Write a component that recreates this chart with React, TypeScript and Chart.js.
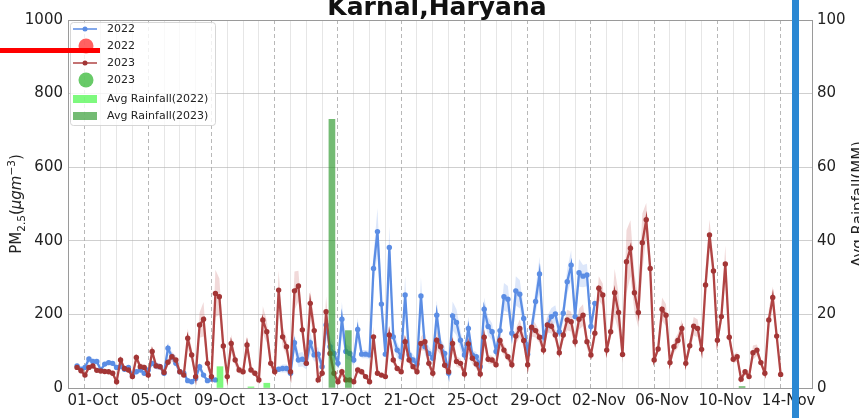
import { useEffect, useRef } from 'react';
import { Chart, registerables } from 'chart.js';

Chart.register(...registerables);

// Time axis: days counted from 01-Oct 00:00; samples every 6 hours starting 30-Sep 00:00
const SERIES_START_DAY = -1;
const SAMPLE_STEP = 0.25;
const SAMPLES_PER_DAY = 4;

// PM2.5 (µg/m³), 6-hourly, 2022 (30-Sep .. 01-Nov)
const pm2022: (number | null)[] = [
  60, 51, 56, 79,
  72, 72, 49, 65,
  69, 67, 56, 58,
  51, 56, 35, 44,
  49, 40, 49, 67,
  60, 58, 40, 108,
  85, 67, 44, 40,
  20, 17, 26, 58,
  35, 20, 24, 22,
  null, null, null, null,
  null, null, null, null,
  null, null, null, null,
  null, null, 49, 51,
  53, 53, 40, 123,
  76, 78, 67, 123,
  90, 92, 58, 171,
  112, 94, 67, 187,
  99, 94, 76, 159,
  92, 92, 90, 325,
  425, 228, 92, 382,
  139, 103, 85, 253,
  90, 76, 65, 250,
  112, 94, 81, 198,
  112, 94, 40, 196,
  178, 130, 90, 162,
  90, 85, 58, 214,
  167, 153, 99, 156,
  248, 241, 149, 264,
  255, 189, 92, 162,
  235, 310, 139, 171,
  194, 201, 153, 203,
  289, 334, 194, 313,
  304, 307, 167, 230,
];

// PM2.5 (µg/m³), 6-hourly, 2023 (30-Sep .. 13-Nov)
const pm2023: number[] = [
  56, 47, 35, 56,
  60, 48, 46, 45,
  44, 40, 17, 76,
  53, 49, 31, 83,
  58, 56, 35, 99,
  60, 58, 42, 70,
  85, 76, 44, 35,
  135, 90, 31, 171,
  187, 67, 31, 257,
  248, 114, 31, 121,
  76, 49, 44, 117,
  49, 40, 22, 185,
  153, 67, 44, 266,
  139, 112, 44, 264,
  277, 158, 67, 230,
  156, 22, 40, 207,
  94, 40, 17, 44,
  22, 22, 17, 49,
  44, 31, 17, 139,
  40, 35, 31, 144,
  76, 53, 44, 126,
  76, 58, 44, 121,
  126, 67, 40, 130,
  112, 62, 44, 121,
  72, 67, 38, 120,
  81, 65, 38, 138,
  78, 76, 63, 129,
  103, 85, 63, 141,
  162, 129, 63, 165,
  156, 138, 103, 171,
  168, 144, 96, 144,
  185, 180, 126, 187,
  198, 126, 90, 149,
  271, 253, 103, 153,
  259, 205, 91, 343,
  380, 259, 205, 395,
  457, 325, 76, 106,
  214, 198, 69, 112,
  129, 162, 67, 115,
  168, 162, 105, 280,
  416, 318, 130, 194,
  337, 138, 78, 85,
  24, 44, 31, 96,
  103, 69, 40, 185,
  246, 141, 37,
];

// Relative half-width of the shaded confidence band, one value per day
const spread2022 = [0.12, 0.1, 0.1, 0.12, 0.12, 0.15, 0.15, 0.2, 0.2, 0, 0, 0, 0.15, 0.2, 0.25, 0.2, 0.25, 0.2, 0.12, 0.15, 0.2, 0.2, 0.2, 0.2, 0.2, 0.15, 0.15, 0.15, 0.15, 0.15, 0.12, 0.12, 0.1];
const spread2023 = [0.12, 0.12, 0.15, 0.12, 0.15, 0.15, 0.15, 0.2, 0.25, 0.2, 0.2, 0.2, 0.2, 0.2, 0.15, 0.2, 0.3, 0.2, 0.2, 0.15, 0.15, 0.15, 0.2, 0.2, 0.2, 0.2, 0.15, 0.15, 0.15, 0.12, 0.12, 0.15, 0.15, 0.12, 0.25, 0.2, 0.1, 0.15, 0.15, 0.15, 0.1, 0.15, 0.2, 0.15, 0.12];

// Average rainfall (mm)
const rainDays2022 = [8.04, 10.0, 11.0];
const rainMM2022 = [5.8, 0.3, 1.3];
const rainDays2023 = [15.12, 16.16, 41.06];
const rainMM2023 = [73, 15.6, 0.4];

// X tick labels
const tickDays = [0, 4, 8, 12, 16, 20, 24, 28, 32, 36, 40, 44];
const tickLabels = ['01-Oct', '05-Oct', '09-Oct', '13-Oct', '17-Oct', '21-Oct', '25-Oct', '29-Oct', '02-Nov', '06-Nov', '10-Nov', '14-Nov'];
const dayGrid = Array.from({ length: 45 }, (_, i) => i);

const X_MIN = -1.05;
const X_MAX = 44.96;

const FONT = '"DejaVu Sans", sans-serif';
const BLUE = '#5b8de4';
const BLUE_BAND = 'rgba(100,145,230,0.22)';
const RED = '#b04444';
const RED_MARK = '#a33636';
const RED_BAND = 'rgba(190,80,80,0.22)';
const RAIN22 = 'rgba(40,245,40,0.6)';
const RAIN23 = 'rgba(40,150,40,0.65)';

const toPoints = (vals: (number | null)[]) =>
  vals.map((v, i) => ({ x: SERIES_START_DAY + i * SAMPLE_STEP, y: v }));
const toBand = (vals: (number | null)[], spreads: number[], sign: number) =>
  vals.map((v, i) => ({
    x: SERIES_START_DAY + i * SAMPLE_STEP,
    y: v == null ? null : v * (1 + sign * spreads[Math.floor(i / SAMPLES_PER_DAY)]),
  }));

const overlayPlugin = {
  id: 'overlay',
  afterDraw(chart: any) {
    const ctx = chart.ctx as CanvasRenderingContext2D;
    const a = chart.chartArea;
    const midY = (a.top + a.bottom) / 2;
    ctx.save();

    // top spine
    ctx.strokeStyle = '#9a9a9a';
    ctx.lineWidth = 1;
    ctx.beginPath();
    ctx.moveTo(a.left, a.top + 0.5);
    ctx.lineTo(a.right, a.top + 0.5);
    ctx.stroke();

    // title
    ctx.fillStyle = '#111';
    ctx.font = `bold 25px ${FONT}`;
    ctx.textAlign = 'center';
    ctx.textBaseline = 'alphabetic';
    ctx.fillText('Karnal,Haryana', (a.left + a.right) / 2 - 3, 15);

    // left axis title with sub/superscripts
    const segs = [
      { t: 'PM', f: `15px ${FONT}`, dy: 0 },
      { t: '2.5', f: `10.5px ${FONT}`, dy: 3.5 },
      { t: '(', f: `15px ${FONT}`, dy: 0 },
      { t: 'μgm', f: `italic 15px ${FONT}`, dy: 0 },
      { t: '−3', f: `10.5px ${FONT}`, dy: -6.5 },
      { t: ')', f: `15px ${FONT}`, dy: 0 },
    ];
    let total = 0;
    for (const s of segs) { ctx.font = s.f; total += ctx.measureText(s.t).width; }
    ctx.save();
    ctx.translate(21, midY);
    ctx.rotate(-Math.PI / 2);
    ctx.textAlign = 'left';
    ctx.fillStyle = '#222';
    let px = -total / 2;
    for (const s of segs) {
      ctx.font = s.f;
      ctx.fillText(s.t, px, s.dy);
      px += ctx.measureText(s.t).width;
    }
    ctx.restore();

    // right axis title
    ctx.save();
    ctx.translate(863, midY);
    ctx.rotate(-Math.PI / 2);
    ctx.textAlign = 'center';
    ctx.fillStyle = '#222';
    ctx.font = `15px ${FONT}`;
    ctx.fillText('Avg Rainfall(MM)', 0, 0);
    ctx.restore();

    // legend
    const lx = a.left + 2;
    const ly = a.top + 2;
    ctx.fillStyle = 'rgba(255,255,255,0.8)';
    ctx.strokeStyle = 'rgba(210,210,210,0.9)';
    ctx.lineWidth = 1;
    ctx.beginPath();
    (ctx as any).roundRect(lx + 0.5, ly + 0.5, 145, 103, 3);
    ctx.fill();
    ctx.stroke();
    const symX = lx + 3;
    const symW = 24;
    const textX = lx + 37;
    const rowY = [ly + 7, ly + 24, ly + 41, ly + 58, ly + 77, ly + 94];
    ctx.font = `11px ${FONT}`;
    ctx.textBaseline = 'middle';
    ctx.textAlign = 'left';
    const lineSym = (y: number, color: string, mark: string) => {
      ctx.strokeStyle = color;
      ctx.lineWidth = 1.5;
      ctx.beginPath();
      ctx.moveTo(symX, y);
      ctx.lineTo(symX + symW, y);
      ctx.stroke();
      ctx.fillStyle = mark;
      ctx.beginPath();
      ctx.arc(symX + symW / 2, y, 2.5, 0, Math.PI * 2);
      ctx.fill();
    };
    const circSym = (y: number, color: string) => {
      ctx.fillStyle = color;
      ctx.beginPath();
      ctx.arc(symX + symW / 2 + 1, y, 7.5, 0, Math.PI * 2);
      ctx.fill();
    };
    const patchSym = (y: number, color: string) => {
      ctx.fillStyle = color;
      ctx.fillRect(symX, y - 4, symW, 8);
    };
    lineSym(rowY[0], BLUE, BLUE);
    circSym(rowY[1], 'rgba(255,30,30,0.7)');
    lineSym(rowY[2], RED, RED_MARK);
    circSym(rowY[3], 'rgba(40,180,40,0.7)');
    patchSym(rowY[4], RAIN22);
    patchSym(rowY[5], RAIN23);
    ctx.fillStyle = '#222';
    const names = ['2022', '2022', '2023', '2023', 'Avg Rainfall(2022)', 'Avg Rainfall(2023)'];
    names.forEach((n, i) => ctx.fillText(n, textX, rowY[i] + 0.5));

    // annotation marks over the picture
    ctx.fillStyle = '#ff0000';
    ctx.fillRect(0, 48, 100, 5);
    ctx.fillStyle = '#2b88d3';
    ctx.fillRect(792, 0, 7, chart.height);

    ctx.restore();
  },
};

export default function App() {
  const canvasRef = useRef<HTMLCanvasElement | null>(null);

  useEffect(() => {
    const canvas = canvasRef.current;
    if (!canvas) return;

    const chart = new Chart(canvas, {
      type: 'line',
      data: {
        datasets: [
          {
            type: 'bar',
            label: 'Avg Rainfall(2023)',
            data: rainDays2023.map((d, i) => ({ x: d, y: rainMM2023[i] })),
            xAxisID: 'x',
            yAxisID: 'y1',
            backgroundColor: RAIN23,
            borderWidth: 0,
            barThickness: 6,
            grouped: false,
            order: 0,
          } as any,
          {
            type: 'bar',
            label: 'Avg Rainfall(2022)',
            data: rainDays2022.map((d, i) => ({ x: d, y: rainMM2022[i] })),
            xAxisID: 'x',
            yAxisID: 'y1',
            backgroundColor: RAIN22,
            borderWidth: 0,
            barThickness: 6,
            grouped: false,
            order: 0,
          } as any,
          {
            label: '2023',
            data: toPoints(pm2023),
            yAxisID: 'y',
            borderColor: RED,
            borderWidth: 2.3,
            pointRadius: 2.7,
            pointBackgroundColor: RED_MARK,
            pointBorderWidth: 0,
            fill: false,
            tension: 0,
            order: 1,
          },
          {
            label: '2022',
            data: toPoints(pm2022),
            yAxisID: 'y',
            borderColor: BLUE,
            borderWidth: 2.3,
            pointRadius: 2.7,
            pointBackgroundColor: BLUE,
            pointBorderWidth: 0,
            spanGaps: false,
            fill: false,
            tension: 0,
            order: 2,
          },
          {
            label: 'band2023hi',
            data: toBand(pm2023, spread2023, 1),
            yAxisID: 'y',
            borderWidth: 0,
            pointRadius: 0,
            fill: false,
            order: 3,
          },
          {
            label: 'band2023lo',
            data: toBand(pm2023, spread2023, -1),
            yAxisID: 'y',
            borderWidth: 0,
            pointRadius: 0,
            backgroundColor: RED_BAND,
            fill: '-1',
            order: 3,
          },
          {
            label: 'band2022hi',
            data: toBand(pm2022, spread2022, 1),
            yAxisID: 'y',
            borderWidth: 0,
            pointRadius: 0,
            spanGaps: false,
            fill: false,
            order: 4,
          },
          {
            label: 'band2022lo',
            data: toBand(pm2022, spread2022, -1),
            yAxisID: 'y',
            borderWidth: 0,
            pointRadius: 0,
            spanGaps: false,
            backgroundColor: BLUE_BAND,
            fill: '-1',
            order: 4,
          },
        ] as any,
      },
      options: {
        responsive: false,
        animation: false,
        events: [],
        layout: { padding: { top: 20, left: 0, right: 0, bottom: 0 } },
        plugins: {
          legend: { display: false },
          title: { display: false },
          tooltip: { enabled: false },
        },
        scales: {
          x: {
            type: 'linear',
            min: X_MIN,
            max: X_MAX,
            afterBuildTicks: (scale: any) => {
              scale.ticks = dayGrid.map((v) => ({ value: v }));
            },
            afterFit: (scale: any) => {
              scale.height = 30;
            },
            ticks: {
              autoSkip: false,
              maxRotation: 0,
              minRotation: 0,
              padding: 4,
              color: '#222',
              font: { family: FONT, size: 15 },
              callback: (v: any) => {
                const k = tickDays.indexOf(Number(v));
                return k >= 0 ? tickLabels[k] : '';
              },
            },
            grid: {
              drawTicks: false,
              lineWidth: 1,
              color: (c: any) =>
                c.tick && tickDays.includes(c.tick.value) ? 'rgba(160,160,160,0.75)' : 'rgba(205,205,205,0.5)',
            },
            border: {
              display: true,
              color: '#9a9a9a',
              dash: (c: any) => (c.tick && tickDays.includes(c.tick.value) ? [4, 3] : []),
            },
          },
          y: {
            type: 'linear',
            position: 'left',
            min: 0,
            max: 1000,
            afterFit: (scale: any) => {
              scale.width = 68;
            },
            ticks: {
              stepSize: 200,
              padding: 5,
              color: '#222',
              font: { family: FONT, size: 15 },
              callback: (v: any) => String(v),
            },
            grid: {
              drawTicks: false,
              color: 'rgba(175,175,175,0.6)',
              lineWidth: 1,
            },
            border: { display: true, color: '#9a9a9a' },
          },
          y1: {
            type: 'linear',
            position: 'right',
            min: 0,
            max: 100,
            afterFit: (scale: any) => {
              scale.width = 47;
            },
            ticks: {
              stepSize: 20,
              padding: 5,
              color: '#222',
              font: { family: FONT, size: 15 },
              callback: (v: any) => String(v),
            },
            grid: { drawOnChartArea: false, drawTicks: false },
            border: { display: true, color: '#9a9a9a' },
          },
        },
      } as any,
      plugins: [overlayPlugin],
    });

    return () => {
      chart.destroy();
    };
  }, []);

  return (
    <div style={{ position: 'absolute', left: 0, top: 0, width: 859, height: 418, background: '#fff' }}>
      <canvas ref={canvasRef} width={859} height={418} style={{ display: 'block' }} />
    </div>
  );
}
